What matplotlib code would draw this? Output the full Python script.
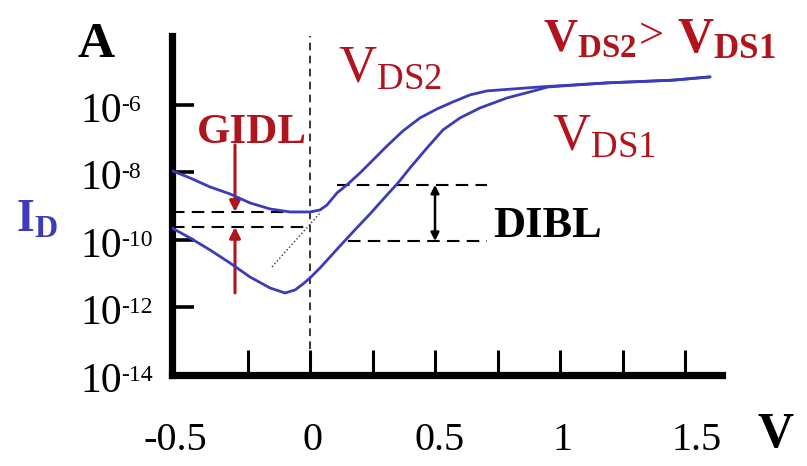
import matplotlib
matplotlib.use('Agg')
import matplotlib.pyplot as plt
from matplotlib import transforms

plt.rcParams['font.family'] = ['Liberation Serif', 'DejaVu Serif']
plt.rcParams['mathtext.fontset'] = 'custom'
plt.rcParams['mathtext.rm'] = 'Liberation Serif'
plt.rcParams['mathtext.it'] = 'Liberation Serif:italic'
plt.rcParams['mathtext.bf'] = 'Liberation Serif:bold'

# ---------------- data ----------------
vg_ds2 = [-0.56, -0.48, -0.40, -0.32, -0.24, -0.16, -0.08, 0.0, 0.04, 0.068, 0.108,
          0.152, 0.20, 0.252, 0.308, 0.372, 0.44, 0.508, 0.572, 0.64, 0.708, 0.92,
          1.188, 1.452, 1.60]
id_ds2 = [1.19e-8, 6.87e-9, 3.72e-9, 2.31e-9, 1.25e-9, 8.3e-10, 6.76e-10, 6.76e-10,
          7.74e-10, 1.09e-9, 2.47e-9, 4.56e-9, 9.66e-9, 2.34e-8, 6.1e-8, 1.7e-7,
          4.12e-7, 7.6e-7, 1.23e-6, 1.98e-6, 2.6e-6, 3.41e-6, 4.49e-6, 5.41e-6, 6.76e-6]

vg_ds1 = [-0.56, -0.48, -0.40, -0.32, -0.24, -0.16, -0.10, -0.06, -0.028, 0.0, 0.04,
          0.08, 0.12, 0.172, 0.24, 0.308, 0.352, 0.40, 0.468, 0.532, 0.60, 0.68, 0.788,
          0.88, 0.952, 1.188, 1.452, 1.60]
id_ds1 = [2.43e-10, 1.15e-10, 5.06e-11, 2.08e-11, 8.0e-12, 3.79e-12, 2.69e-12, 3.3e-12,
          4.97e-12, 7.48e-12, 1.48e-11, 3.13e-11, 6.64e-11, 1.73e-10, 5.89e-10, 2.15e-9,
          4.89e-9, 1.36e-8, 5.32e-8, 1.82e-7, 4.12e-7, 8.14e-7, 1.61e-6, 2.43e-6,
          3.41e-6, 4.49e-6, 5.41e-6, 6.76e-6]

xtick_marks = [-0.25, 0.0, 0.25, 0.5, 0.75, 1.0, 1.25, 1.5]
xlabel_texts = ['-0.5', '0', '0.5', '1', '1.5']
ytick_marks = [1e-12, 1e-10, 1e-8, 1e-6]
ylabel_vals = [1e-6, 1e-8, 1e-10, 1e-12, 1e-14]
ylabel_exps = ['-6', '-8', '-10', '-12', '-14']

# GIDL / DIBL reference levels
gidl_hi = 6.76e-10
gidl_lo = 2.43e-10
dibl_hi = 4.3e-9
dibl_lo = 9.3e-11

# ---------------- layout ----------------
W, H = 807, 466
fig = plt.figure(figsize=(W / 100, H / 100), dpi=100)
ax = fig.add_axes([172 / W, (H - 375) / H, 550 / W, 339 / H])
ax.set_yscale('log')
ax.set_xlim(-0.552, 1.648)
ax.set_ylim(1e-14, 1.1e-4)

blue = '#3c3cb8'
red = '#b0141c'

for s in ['top', 'right']:
    ax.spines[s].set_visible(False)
for s in ['left', 'bottom']:
    ax.spines[s].set_linewidth(5.2)
    ax.spines[s].set_capstyle('projecting')

ax.set_xticks(xtick_marks)
ax.set_xticklabels([])
ax.set_yticks(ytick_marks)
ax.set_yticklabels([])
ax.yaxis.set_minor_locator(matplotlib.ticker.NullLocator())
ax.tick_params(axis='x', direction='in', length=18, width=2.2)
ax.tick_params(axis='y', direction='in', length=16, width=2.6)

# curves
for xs, ys in [(vg_ds2, id_ds2), (vg_ds1, id_ds1)]:
    ax.plot(xs, ys, color=blue, lw=2.0, solid_capstyle='round',
            solid_joinstyle='round', zorder=4, clip_on=True)

# dashed guide lines
ax.plot([0, 0], [1e-14, 1.1e-4], color='black', lw=1.1, dashes=(5, 3.5), zorder=2)
ax.plot([-0.552, 0.012], [gidl_hi, gidl_hi], color='black', lw=1.5, dashes=(6, 3.5), zorder=2)
ax.plot([-0.552, 0.0], [gidl_lo, gidl_lo], color='black', lw=1.5, dashes=(6, 3.5), zorder=2)
ax.plot([0.108, 0.708], [dibl_hi, dibl_hi], color='black', lw=1.5, dashes=(6, 3.5), zorder=2)
ax.plot([0.152, 0.708], [dibl_lo, dibl_lo], color='black', lw=1.5, dashes=(6, 3.5), zorder=2)
ax.plot([-0.152, 0.04], [1.6e-11, 6.3e-10], color='#333333', lw=1.0, ls=':', zorder=2)

# GIDL arrows
ax.annotate('', xy=(-0.30, gidl_hi), xytext=(-0.30, 6.5e-8),
            arrowprops=dict(arrowstyle='-|>', color=red, lw=2.2, mutation_scale=16,
                            shrinkA=0, shrinkB=0))
ax.annotate('', xy=(-0.30, gidl_lo), xytext=(-0.30, 2.7e-12),
            arrowprops=dict(arrowstyle='-|>', color=red, lw=2.2, mutation_scale=16,
                            shrinkA=0, shrinkB=0))
# DIBL double arrow
ax.annotate('', xy=(0.5, dibl_lo), xytext=(0.5, dibl_hi),
            arrowprops=dict(arrowstyle='<|-|>', color='black', lw=1.8, mutation_scale=12,
                            shrinkA=0, shrinkB=0))


def ftext(px, py, s, **kw):
    fig.text(px / W, 1 - py / H, s, ha=kw.pop('ha', 'left'), va=kw.pop('va', 'baseline'), **kw)


# y tick labels: "10" with small superscript exponent
for v, e in zip(ylabel_vals, ylabel_exps):
    ty = H - ax.transData.transform((0, v))[1]   # pixel row of the tick
    ftext(80, ty + 17, '10', fontsize=30)
    ftext(121, ty + 6, e, fontsize=17)

# x tick labels
xtr = transforms.blended_transform_factory(ax.transData, ax.transAxes)
xlabel_pos = [-0.54, 0.012, 0.52, 1.012, 1.548]
for xp, t in zip(xlabel_pos, xlabel_texts):
    ax.text(xp, (375 - 440) / 339, t, transform=xtr, ha='center', va='center',
            fontsize=29, clip_on=False)

ftext(77, 57, 'A', fontsize=37, fontweight='bold')
ftext(757, 447, 'V', fontsize=36, fontweight='bold')
ftext(16, 232, r'$\mathbf{I_D}$', fontsize=33, color=blue)
ftext(197, 143, 'GIDL', fontsize=31, fontweight='bold', color=red)
ftext(493, 237, 'DIBL', fontsize=32, fontweight='bold', color='black')
ftext(338, 82, r'$\mathrm{V_{DS2}}$', fontsize=38, color=red)
ftext(552, 150, r'$\mathrm{V_{DS1}}$', fontsize=38, color=red)
ftext(543, 52, r'$\mathbf{V_{DS2}}$', fontsize=34, color=red)
ftext(639, 48, '>', fontsize=32, color=red)
ftext(677, 52, r'$\mathbf{V_{DS1}}$', fontsize=36, color=red)

fig.savefig('out.png', dpi=100)
